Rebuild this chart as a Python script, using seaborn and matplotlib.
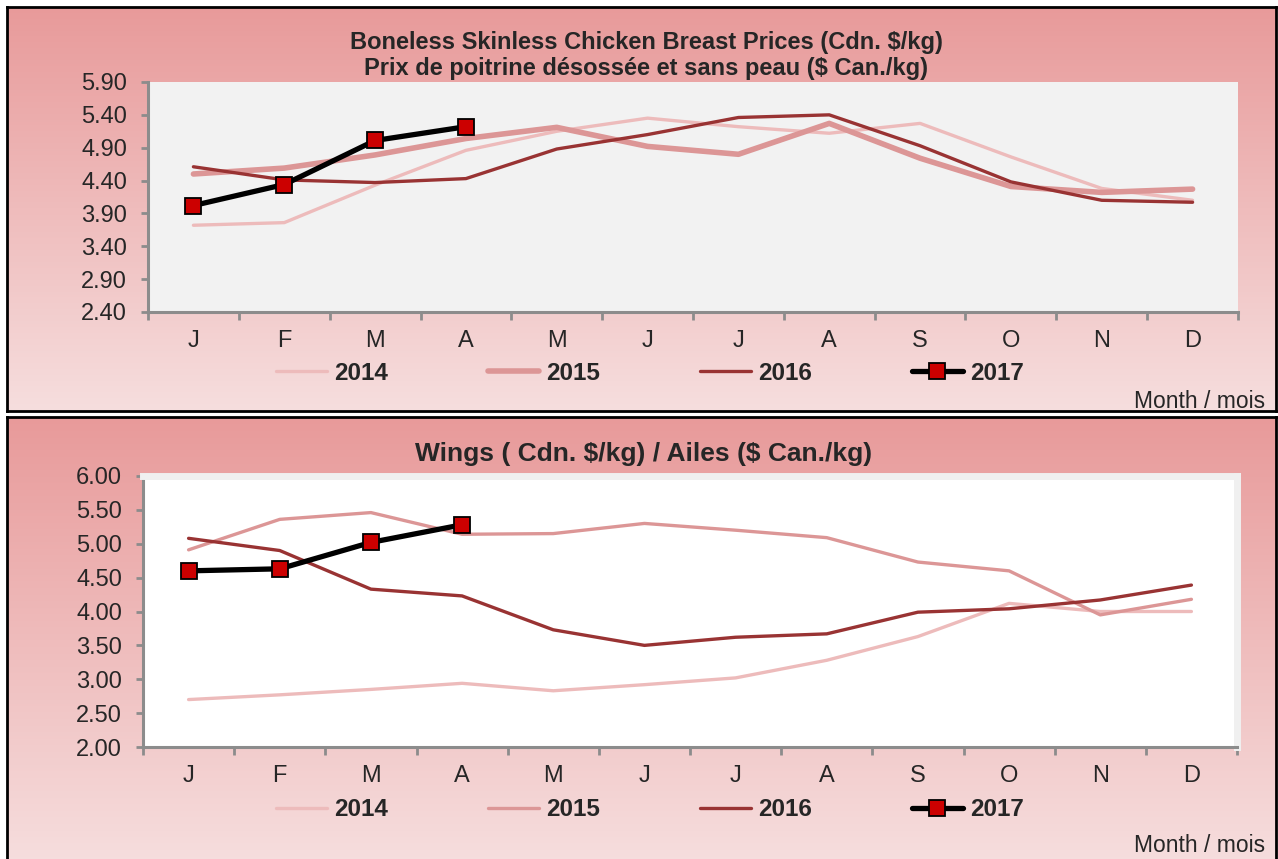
import matplotlib
matplotlib.use("Agg")
import matplotlib.pyplot as plt
from matplotlib.lines import Line2D
import seaborn as sns
import numpy as np

months = ["J", "F", "M", "A", "M", "J", "J", "A", "S", "O", "N", "D"]
years = ["2014", "2015", "2016", "2017"]

# Boneless skinless chicken breast, Cdn $/kg
breast_2014 = [3.72, 3.76, 4.33, 4.86, 5.15, 5.35, 5.22, 5.12, 5.27, 4.76, 4.28, 4.10]
breast_2015 = [4.50, 4.59, 4.79, 5.04, 5.21, 4.92, 4.80, 5.27, 4.74, 4.31, 4.22, 4.27]
breast_2016 = [4.61, 4.41, 4.37, 4.43, 4.88, 5.10, 5.36, 5.40, 4.93, 4.38, 4.10, 4.07]
breast_2017 = [4.02, 4.34, 5.01, 5.22]

# Wings, Cdn $/kg
wings_2014 = [2.70, 2.77, 2.85, 2.94, 2.83, 2.92, 3.02, 3.28, 3.63, 4.12, 4.00, 4.00]
wings_2015 = [4.91, 5.36, 5.46, 5.14, 5.15, 5.30, 5.20, 5.09, 4.73, 4.60, 3.95, 4.18]
wings_2016 = [5.08, 4.90, 4.33, 4.23, 3.73, 3.50, 3.62, 3.67, 3.99, 4.04, 4.17, 4.39]
wings_2017 = [4.60, 4.63, 5.02, 5.28]

breast_ticks = [2.40, 2.90, 3.40, 3.90, 4.40, 4.90, 5.40, 5.90]
wings_ticks = [2.00, 2.50, 3.00, 3.50, 4.00, 4.50, 5.00, 5.50, 6.00]

W, H = 1278, 859

sns.set_theme(style="white")
plt.rcParams["font.family"] = ["Liberation Sans", "DejaVu Sans"]

C14 = "#EDBBBB"
C15 = "#DC9696"
C16 = "#993333"
AXIS = "#8C8C8C"


def box(l, t, r, b):
    return [l / W, 1 - b / H, (r - l) / W, (b - t) / H]


def panel(fig, l, t, r, b):
    bg = fig.add_axes(box(l, t, r, b), zorder=0)
    grad = np.linspace(0, 1, 256)[:, None]
    top = np.array([232, 154, 154]) / 255
    bot = np.array([246, 222, 222]) / 255
    img = top[None, None, :] * (1 - grad[..., None]) + bot[None, None, :] * grad[..., None]
    bg.imshow(img, aspect="auto", extent=[0, 1, 0, 1])
    bg.set_xticks([])
    bg.set_yticks([])
    for s in bg.spines.values():
        s.set_color("black")
        s.set_linewidth(2)
        s.set_visible(True)
    return bg


def chart(fig, rect, series, widths, ticks, face):
    ax = fig.add_axes(rect, zorder=2)
    ax.set_facecolor(face)
    x = np.arange(12)
    colors = [C14, C15, C16]
    for vals, col, lw, lab in zip(series[:3], colors, widths, years[:3]):
        sns.lineplot(x=x, y=vals, ax=ax, color=col, linewidth=lw, label=lab, legend=False)
    v17 = series[3]
    sns.lineplot(x=x[:len(v17)], y=v17, ax=ax, color="black", linewidth=3.8,
                 marker="s", markersize=11, markerfacecolor="#CC0000",
                 markeredgecolor="black", markeredgewidth=1.3, label="2017", legend=False)
    ax.set_xlim(-0.5, 11.5)
    ax.set_ylim(ticks[0], ticks[-1])
    ax.set_yticks(ticks)
    ax.set_yticklabels([f"{t:.2f}" for t in ticks])
    ax.set_xticks(x)
    ax.set_xticklabels(months)
    ax.set_xticks(np.arange(-0.5, 12, 1), minor=True)
    ax.tick_params(axis="x", which="major", length=0, pad=13, labelsize=17)
    ax.tick_params(axis="x", which="minor", length=6, width=2, color=AXIS, direction="out", bottom=True)
    ax.tick_params(axis="y", length=5, width=2, color=AXIS, direction="out", left=True, pad=10, labelsize=17)
    ax.set_xlabel("")
    ax.set_ylabel("")
    ax.grid(False)
    for s in ["left", "bottom"]:
        ax.spines[s].set_color(AXIS)
        ax.spines[s].set_linewidth(2.2)
    for s in ["top", "right"]:
        ax.spines[s].set_visible(False)
    return ax


def legend(fig, widths, cy):
    handles = [
        Line2D([], [], color=C14, lw=widths[0]),
        Line2D([], [], color=C15, lw=widths[1]),
        Line2D([], [], color=C16, lw=widths[2]),
        Line2D([], [], color="black", lw=3.8, marker="s", markersize=11,
               markerfacecolor="#CC0000", markeredgecolor="black", markeredgewidth=1.3),
    ]
    fig.legend(handles, years, ncol=4, loc="center", bbox_to_anchor=(650 / W, 1 - cy / H),
               frameon=False, handlelength=2.1, handletextpad=0.3, columnspacing=4.1,
               prop={"weight": "bold", "size": 17.5})


fig = plt.figure(figsize=(W / 100, H / 100), dpi=100)

# top panel: chicken breast
panel(fig, 7, 7, 1276, 411)
top_w = [2.4, 4.0, 2.4]
ax1 = chart(fig, box(148, 82, 1238, 312),
            [breast_2014, breast_2015, breast_2016, breast_2017],
            top_w, breast_ticks, "#F2F2F2")
fig.text(646 / W, 1 - 43 / H, r"Boneless Skinless Chicken Breast Prices (Cdn. \$/kg)",
         ha="center", va="center", fontsize=17, fontweight="bold", zorder=3)
fig.text(646 / W, 1 - 68 / H, r"Prix de poitrine désossée et sans peau (\$ Can./kg)",
         ha="center", va="center", fontsize=17, fontweight="bold", zorder=3)
legend(fig, top_w, 373)
fig.text(1265 / W, 1 - 401 / H, "Month / mois", ha="right", va="center", fontsize=16.5, zorder=3)

# bottom panel: wings
panel(fig, 7, 417, 1276, 864)
bot_w = [2.4, 2.4, 2.4]
ax2 = chart(fig, box(143, 476, 1237, 747),
            [wings_2014, wings_2015, wings_2016, wings_2017],
            bot_w, wings_ticks, "white")
for s in ["top", "right"]:
    ax2.spines[s].set_visible(True)
    ax2.spines[s].set_color("#F0F0F0")
    ax2.spines[s].set_linewidth(5)
fig.text(644 / W, 1 - 454 / H, r"Wings ( Cdn. \$/kg) / Ailes (\$ Can./kg)",
         ha="center", va="center", fontsize=19, fontweight="bold", zorder=3)
legend(fig, bot_w, 810)
fig.text(1265 / W, 1 - 846 / H, "Month / mois", ha="right", va="center", fontsize=16.5, zorder=3)

fig.savefig("out.png", dpi=100)
